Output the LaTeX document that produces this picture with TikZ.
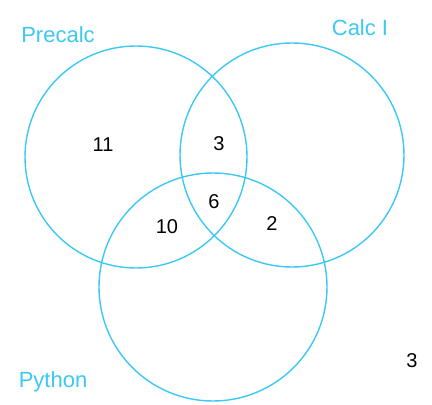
\documentclass[tikz,border=0pt]{standalone}
\usepackage{fontspec}
\setmainfont{Liberation Sans}
\definecolor{vblue}{HTML}{3CC8F5}
\begin{document}
\begin{tikzpicture}[x=1pt,y=-1pt,
  ring/.style={draw=vblue,line width=1.4pt},
  setlabel/.style={text=vblue,font=\fontsize{22}{24}\selectfont},
  count/.style={text=black,font=\fontsize{20}{22}\selectfont}]
\useasboundingbox (0,0) rectangle (432,405);
\draw[ring] (136,157) circle (111);
\draw[ring] (292,155) circle (112);
\draw[ring] (213,287) circle (114);
\node[setlabel] (pre) at (58,35) {Precalc};
\node[setlabel] (calc) at (360,28) {Calc I};
\node[setlabel] (py) at (53,382) {Python};
\node[count] (n11) at (103,145) {11};
\node[count] (n3) at (219,144) {3};
\node[count] (n6) at (214,202) {6};
\node[count] (n10) at (167,227) {10};
\node[count] (n2) at (272,224) {2};
\node[count] (nout) at (412,361) {3};
\end{tikzpicture}
\end{document}
